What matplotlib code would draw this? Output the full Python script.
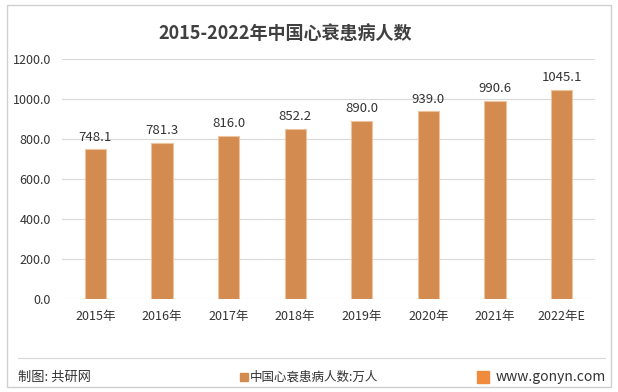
import matplotlib.pyplot as plt
from matplotlib.patches import Rectangle
from matplotlib.lines import Line2D

plt.rcParams['font.family'] = ['Noto Sans CJK SC', 'DejaVu Sans']

years = ['2015年', '2016年', '2017年', '2018年', '2019年', '2020年', '2021年', '2022年E']
values = [748.1, 781.3, 816.0, 852.2, 890.0, 939.0, 990.6, 1045.1]
yticks = [0, 200, 400, 600, 800, 1000, 1200]

bar_color = '#D38B4F'
text_color = '#333333'

fig = plt.figure(figsize=(6.18, 3.92), dpi=100)
ax = fig.add_axes([62 / 618, 1 - 299 / 392, 533 / 618, 240 / 392])

x = range(len(years))
ax.bar(x, values, width=0.32, color=bar_color, edgecolor='#EDC4A0', linewidth=0.8, zorder=3)
for xi, v in zip(x, values):
    ax.text(xi, v + 28, f'{v:.1f}', ha='center', va='bottom', fontsize=9.5,
            color=text_color)

ax.set_ylim(0, 1200)
ax.set_xlim(-0.5, len(years) - 0.5)
ax.set_yticks(yticks)
ax.set_yticklabels([f'{t:.1f}' for t in yticks], fontsize=9, color=text_color)
ax.set_xticks(list(x))
ax.set_xticklabels(years, fontsize=9, color=text_color)
ax.tick_params(length=0, pad=8)
ax.grid(axis='y', color='#D9D9D9', linewidth=0.8, zorder=0)
for s in ax.spines.values():
    s.set_visible(False)

fig.text(285 / 618, 1 - 33 / 392, '2015-2022年中国心衰患病人数', ha='center', va='center',
         fontsize=13, fontweight='bold', color='#404040')

# outer border and footer separator
fig.add_artist(Rectangle((7 / 618, 5 / 392), 604 / 618, 382 / 392, transform=fig.transFigure,
                         fill=False, edgecolor='#D0D0D0', linewidth=1))
fig.add_artist(Line2D([18 / 618, 605 / 618], [1 - 358 / 392] * 2, transform=fig.transFigure,
                      color='#D9D9D9', linewidth=0.8))

fy = 1 - 377 / 392
fig.text(18 / 618, fy, '制图: 共研网', ha='left', va='center', fontsize=9.5, color=text_color)
fig.add_artist(Rectangle((240 / 618, fy - 4 / 392), 8 / 618, 8 / 392, transform=fig.transFigure,
                         color=bar_color))
fig.text(250 / 618, fy, '中国心衰患病人数:万人', ha='left', va='center', fontsize=9,
         color=text_color)
fig.add_artist(Rectangle((477 / 618, fy - 6 / 392), 12 / 618, 12 / 392, transform=fig.transFigure,
                         color='#F08A3C'))
fig.text(606 / 618, fy, 'www.gonyn.com', ha='right', va='center', fontsize=10,
         color=text_color)

fig.savefig('out.png', dpi=100)
